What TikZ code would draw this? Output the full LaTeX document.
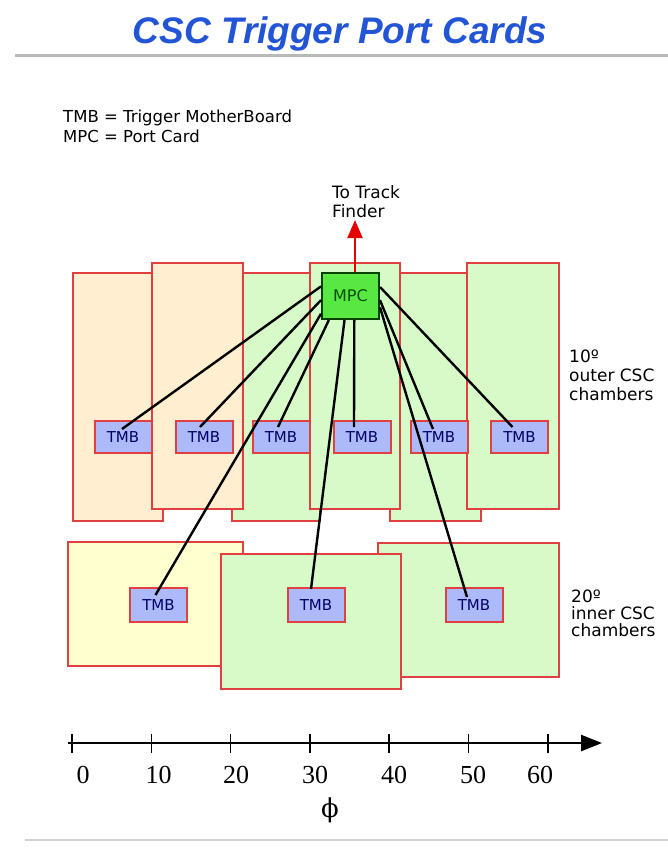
\documentclass[tikz,border=0pt]{standalone}
\usepackage{fontspec}
\setmainfont{Liberation Sans}
\newfontfamily\macfont{DejaVu Sans}
\newfontfamily\numfont{Liberation Serif}
\newfontfamily\phifont{DejaVu Serif}
\usetikzlibrary{arrows.meta}
\definecolor{cscred}{RGB}{226,64,64}
\definecolor{peach}{RGB}{255,239,208}
\definecolor{mint}{RGB}{214,250,200}
\definecolor{cream}{RGB}{255,255,208}
\definecolor{lavender}{RGB}{172,186,250}
\definecolor{mpcgreen}{RGB}{88,232,66}
\definecolor{titleblue}{RGB}{34,84,214}

\begin{document}
\begin{tikzpicture}[x=1pt,y=-1pt]
   \tikzstyle{chamber}=[draw=cscred,line width=1.8pt,anchor=north west,inner sep=0pt,outer sep=0pt]
   \tikzstyle{tmb}=[fill=lavender,draw=cscred,line width=2pt,minimum width=57pt,inner sep=0pt,text=black!60!blue,font=\macfont\fontsize{15}{15}\selectfont]
   \tikzstyle{mpc}=[fill=mpcgreen,draw=black!75!green,line width=2pt,minimum width=57pt,minimum height=46pt,inner sep=0pt,text=black!70!green,font=\macfont\fontsize{16}{16}\selectfont]
   \tikzstyle{link}=[draw,black,line width=2.4pt]
   \tikzstyle{uplink}=[draw=red!90!black,line width=2pt,-{Triangle[length=18pt,width=15pt]}]
   \tikzstyle{side}=[anchor=base west,inner sep=0pt,font=\macfont\fontsize{17}{17}\selectfont]
   \tikzstyle{numlab}=[anchor=base,inner sep=0pt,font=\numfont\fontsize{26}{26}\selectfont]
   \fill [white] (0,0) rectangle (668,852);
   \useasboundingbox (0,0) rectangle (668,852);
   % title and legend
   \node (title) [anchor=base,text=titleblue,font=\bfseries\itshape\fontsize{37}{37}\selectfont] at (340,43) {CSC Trigger Port Cards};
   \draw [gray!55,line width=3pt] (15,55) -- (668,55);
   \node (leg1) [side,font=\macfont\fontsize{16.5}{16.5}\selectfont] at (63,122) {TMB = Trigger MotherBoard};
   \node (leg2) [side,font=\macfont\fontsize{16.5}{16.5}\selectfont] at (63,142) {MPC = Port Card};
   % outer chambers, back row then front row
   \node (o1) [chamber,fill=peach,minimum width=90pt,minimum height=248pt] at (73,273) {};
   \node (o3) [chamber,fill=mint,minimum width=88pt,minimum height=248pt] at (232,273) {};
   \node (o5) [chamber,fill=mint,minimum width=91pt,minimum height=248pt] at (390,273) {};
   \node (o2) [chamber,fill=peach,minimum width=91pt,minimum height=246pt] at (152,263) {};
   \node (o4) [chamber,fill=mint,minimum width=90pt,minimum height=246pt] at (310,263) {};
   \node (o6) [chamber,fill=mint,minimum width=92pt,minimum height=246pt] at (467,263) {};
   % inner chambers
   \node (iA) [chamber,fill=cream,minimum width=175pt,minimum height=124pt] at (68,542) {};
   \node (iC) [chamber,fill=mint,minimum width=181pt,minimum height=134pt] at (378,543) {};
   \node (iB) [chamber,fill=mint,minimum width=180pt,minimum height=135pt] at (221,554) {};
   % trigger motherboards
   \node (t1) [tmb,minimum height=32pt] at (123,437) {TMB};
   \node (t2) [tmb,minimum height=32pt] at (204,437) {TMB};
   \node (t3) [tmb,minimum height=32pt] at (281,437) {TMB};
   \node (t4) [tmb,minimum height=32pt] at (362,437) {TMB};
   \node (t5) [tmb,minimum height=32pt] at (439,437) {TMB};
   \node (t6) [tmb,minimum height=32pt] at (519.5,437) {TMB};
   \node (ti1) [tmb,minimum height=34pt] at (158.5,605) {TMB};
   \node (ti2) [tmb,minimum height=34pt] at (316,605) {TMB};
   \node (ti3) [tmb,minimum height=34pt] at (474,605) {TMB};
   % port card
   \node (mpc) [mpc] at (350.5,296) {MPC};
   \foreach \a/\t/\dx/\dy in {162/t1/-1/9,188/t2/-4/7,228/t3/-3/7,279/t4/-8/7,352/t5/-6/9,17/t6/-7/7,211/ti1/-3/8,256/ti2/-5/2,339/ti3/-7/10}
      \path [link] (mpc.\a) -- ([shift={(\dx,\dy)}]\t.north);
   \coordinate (tf) at (355,220);
   \path [uplink] ([xshift=4.5pt]mpc.north) -- (tf);
   \node (to1) [side] at (332,198) {To Track};
   \node (to2) [side] at (332,217) {Finder};
   \node (out1) [side] at (569,362) {10º};
   \node (out2) [side] at (569,381) {outer CSC};
   \node (out3) [side] at (569,400) {chambers};
   \node (in1) [side] at (571,602) {20º};
   \node (in2) [side] at (571,619) {inner CSC};
   \node (in3) [side] at (571,636) {chambers};
   % phi axis
   \coordinate (ax0) at (68,743);
   \coordinate (ax1) at (602,743);
   \path [draw,line width=2.5pt,-{Triangle[length=21pt,width=16pt]}] (ax0) -- (ax1);
   \foreach \k/\lx/\v in {0/83/0,1/158.5/10,2/236/20,3/315/30,4/394/40,5/473/50,6/540/60} {
      \draw [line width=1.6pt] (72+79.3*\k,734) -- ++(0,19);
      \node (n\v) [numlab] at (\lx,783) {\v};
   }
   \node (phi) [inner sep=0pt,font=\phifont\fontsize{26}{26}\selectfont] at (330,810) {ϕ};
   \draw [gray!35,line width=2pt] (25,840) -- (668,840);
\end{tikzpicture}
\end{document}
